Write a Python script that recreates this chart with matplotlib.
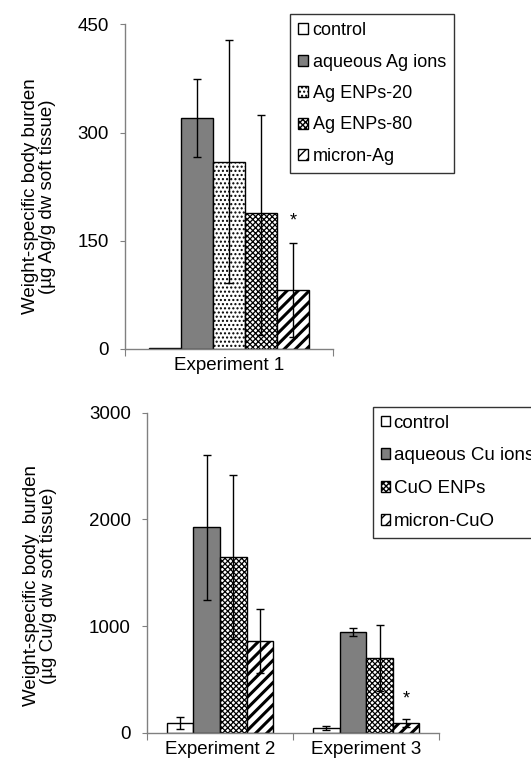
import numpy as np
import matplotlib
matplotlib.use("Agg")
import matplotlib.pyplot as plt

plt.rcParams['font.family'] = ['Liberation Sans', 'DejaVu Sans']
plt.rcParams['hatch.linewidth'] = 1.0

# --- Experiment 1 (Ag) ---
ag_labels = ["control", "aqueous Ag ions", "Ag ENPs-20", "Ag ENPs-80", "micron-Ag"]
ag_values = [1, 320, 260, 188, 82]
ag_err_lo = [0, 54, 168, 168, 65]
ag_err_hi = [0, 54, 168, 137, 65]
ag_star = [False, False, False, False, True]

# --- Experiments 2 and 3 (Cu) ---
cu_groups = ["Experiment 2", "Experiment 3"]
cu_labels = ["control", "aqueous Cu ions", "CuO ENPs", "micron-CuO"]
cu_values = {
    "control": [94, 45],
    "aqueous Cu ions": [1925, 942],
    "CuO ENPs": [1644, 700],
    "micron-CuO": [857, 91],
}
cu_err = {
    "control": [57, 18],
    "aqueous Cu ions": [678, 40],
    "CuO ENPs": [770, 310],
    "micron-CuO": [300, 34],
}
cu_star = {"micron-CuO": [False, True]}

# fill colour, hatch, hatch line width
ag_styles = [
    ("white", None, 1.0),
    ("#7f7f7f", None, 1.0),
    ("white", "....", 1.0),
    ("white", "xxxxxx", 0.9),
    ("white", "///", 2.2),
]
cu_styles = [ag_styles[0], ag_styles[1], ag_styles[3], ag_styles[4]]

W, H = 531, 765
fig = plt.figure(figsize=(W / 100, H / 100), dpi=100)

spine_col = "#808080"
fs = 13.5


def draw_bar(ax, xpos, vals, width, style, label):
    col, hatch, hlw = style
    with plt.rc_context({"hatch.linewidth": hlw}):
        bars = ax.bar(xpos, vals, width, color=col, hatch=hatch, edgecolor="black",
                      linewidth=1.0, label=label, zorder=2)
    for p in bars.patches:
        if hasattr(p, "set_hatch_linewidth"):
            p.set_hatch_linewidth(hlw)
    return bars


def style_axes(ax):
    for s in ["top", "right"]:
        ax.spines[s].set_visible(False)
    for s in ["left", "bottom"]:
        ax.spines[s].set_color(spine_col)
        ax.spines[s].set_linewidth(1.0)
    ax.tick_params(axis="y", which="major", direction="out", length=3.5,
                   color=spine_col, labelsize=fs, pad=8)
    ax.tick_params(axis="x", which="major", direction="out", length=5,
                   color=spine_col, labelbottom=False)
    ax.tick_params(axis="x", which="minor", length=0, labelsize=fs, pad=6)


# ---------- top panel ----------
ax1 = fig.add_axes([125 / W, 1 - 349 / H, 208 / W, 324.5 / H])
n = len(ag_labels)
bw = 0.154
offs = (np.arange(n) - (n - 1) / 2) * bw
for i, lab in enumerate(ag_labels):
    draw_bar(ax1, offs[i], ag_values[i], bw, ag_styles[i], lab)
    if ag_err_hi[i] > 0:
        ax1.errorbar(offs[i], ag_values[i], yerr=[[ag_err_lo[i]], [ag_err_hi[i]]],
                     fmt="none", ecolor="black", elinewidth=1.0, capsize=3,
                     capthick=1.0, zorder=3)
    if ag_star[i]:
        ax1.text(offs[i], ag_values[i] + ag_err_hi[i] + 30, "*", ha="center",
                 va="center", fontsize=13)
ax1.set_xlim(-0.5, 0.5)
ax1.set_ylim(0, 450)
ax1.set_yticks([0, 150, 300, 450])
ax1.set_xticks([-0.5, 0.5])
ax1.set_xticks([0], minor=True)
ax1.set_xticklabels(["Experiment 1"], minor=True)
style_axes(ax1)
ax1.set_ylabel("Weight-specific body burden\n(µg Ag/g dw soft tissue)",
               fontsize=fs, linespacing=1.0)
ax1.yaxis.set_label_coords(-(125 - 56) / 208, 0.47)
leg1 = ax1.legend(loc="upper left", bbox_to_anchor=(290 / W, 1 - 14 / H),
                  bbox_transform=fig.transFigure, fontsize=13, frameon=True,
                  fancybox=False, edgecolor="black", handlelength=0.55,
                  handleheight=0.55, handletextpad=0.25, labelspacing=0.8,
                  borderpad=0.45, borderaxespad=0)
leg1.get_frame().set_linewidth(1.0)

# ---------- bottom panel ----------
ax2 = fig.add_axes([146.7 / W, 1 - 732.7 / H, 292.7 / W, 320 / H])
m = len(cu_labels)
bw2 = 0.182
x = np.arange(len(cu_groups))
offs2 = (np.arange(m) - (m - 1) / 2) * bw2
for i, lab in enumerate(cu_labels):
    draw_bar(ax2, x + offs2[i], cu_values[lab], bw2, cu_styles[i], lab)
    ax2.errorbar(x + offs2[i], cu_values[lab], yerr=cu_err[lab], fmt="none",
                 ecolor="black", elinewidth=1.0, capsize=3, capthick=1.0, zorder=3)
    if lab in cu_star:
        for j, flag in enumerate(cu_star[lab]):
            if flag:
                ax2.text(x[j] + offs2[i], cu_values[lab][j] + cu_err[lab][j] + 190,
                         "*", ha="center", va="center", fontsize=13)
ax2.set_xlim(-0.5, len(cu_groups) - 0.5)
ax2.set_ylim(0, 3000)
ax2.set_yticks([0, 1000, 2000, 3000])
ax2.set_xticks([-0.5, 0.5, 1.5])
ax2.set_xticks(x, minor=True)
ax2.set_xticklabels(cu_groups, minor=True)
style_axes(ax2)
ax2.set_ylabel("Weight-specific body  burden\n(µg Cu/g dw soft tissue)",
               fontsize=fs, linespacing=1.0)
ax2.yaxis.set_label_coords(-(146.7 - 57) / 292.7, 0.46)
leg2 = ax2.legend(loc="upper left", bbox_to_anchor=(373 / W, 1 - 407 / H),
                  bbox_transform=fig.transFigure, fontsize=13.5, frameon=True,
                  fancybox=False, edgecolor="black", handlelength=0.5,
                  handleheight=0.5, handletextpad=0.2, labelspacing=0.85,
                  borderpad=0.4, borderaxespad=0)
leg2.get_frame().set_linewidth(1.0)

fig.savefig("out.png", dpi=100)
